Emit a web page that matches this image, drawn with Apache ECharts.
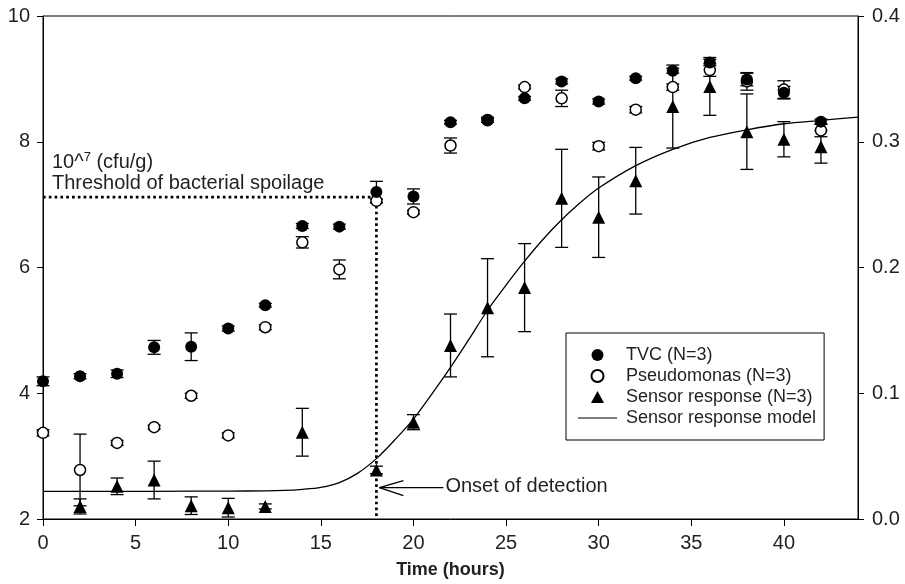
<!DOCTYPE html>
<html>
<head>
<meta charset="utf-8">
<script src="https://cdn.jsdelivr.net/npm/echarts@6/dist/echarts.min.js"></script>
<style>
  html, body { margin: 0; padding: 0; background: #fff; }
  #chart { width: 905px; height: 584px; }
</style>
</head>
<body>
<div id="chart"></div>
<script>
// ---- data ----
const times = [0, 2, 4, 6, 8, 10, 12, 14, 16, 18, 20, 22, 24, 26, 28, 30, 32, 34, 36, 38, 40, 42];
const tvc = [4.19, 4.27, 4.31, 4.73, 4.74, 5.03, 5.40, 6.66, 6.65, 7.20, 7.13, 8.31, 8.35, 8.69, 8.96, 8.64, 9.01, 9.13, 9.26, 8.99, 8.78, 8.32];
const tvcErr = [0.07, 0.04, 0.06, 0.11, 0.22, 0.04, 0.03, 0.04, 0.04, 0.17, 0.12, 0.03, 0.04, 0.03, 0.04, 0.04, 0.03, 0.04, 0.05, 0.10, 0.10, 0.04];
const pseudomonas = [3.37, 2.78, 3.21, 3.46, 3.96, 3.33, 5.05, 6.40, 5.97, 7.06, 6.88, 7.94, 8.34, 8.87, 8.69, 7.93, 8.51, 8.87, 9.14, 8.96, 8.83, 8.18];
const pseudomonasErr = [0.05, 0.57, 0.04, 0.03, 0.04, 0.04, 0.04, 0.09, 0.15, 0.03, 0.03, 0.12, 0.03, 0.03, 0.13, 0.06, 0.05, 0.05, 0.10, 0.14, 0.14, 0.10];
const sensor = [null, 0.010, 0.026, 0.031, 0.0106, 0.009, 0.010, 0.069, null, 0.039, 0.077, 0.138, 0.168, 0.184, 0.255, 0.240, 0.269, 0.328, 0.344, 0.308, 0.302, 0.296];
const sensorErr = [null, 0.006, 0.0066, 0.015, 0.007, 0.0074, 0.002, 0.019, null, 0.003, 0.006, 0.025, 0.039, 0.035, 0.039, 0.032, 0.0265, 0.033, 0.023, 0.030, 0.014, 0.013];
const modelTimes = [0, 4, 8, 10, 12, 13, 14, 15, 16, 17, 18, 19, 20, 21, 22, 23, 24, 25, 26, 27, 28, 29, 30, 32, 34, 36, 38, 40, 42, 44];
const modelValues = [0.0220, 0.0220, 0.0221, 0.0222, 0.0224, 0.0227, 0.0236, 0.0252, 0.0290, 0.0365, 0.0480, 0.0630, 0.0794, 0.0995, 0.1205, 0.1430, 0.1660, 0.1860, 0.2050, 0.2225, 0.2380, 0.2515, 0.2632, 0.2810, 0.2940, 0.3034, 0.3095, 0.3143, 0.3170, 0.3196];
const xTickValues = [0, 5, 10, 15, 20, 25, 30, 35, 40];
const thresholdLevel = 7.12;   // 10^7 cfu/g spoilage threshold (log scale)
const onsetTime = 18;          // onset of detection (hours)
const onsetArrowLevel = 2.5;   // height of the "Onset of detection" arrow (left axis)
const seriesNames = ['TVC (N=3)', 'Pseudomonas (N=3)', 'Sensor response (N=3)', 'Sensor response model'];

const FONT = '"Liberation Sans", Arial, Helvetica, sans-serif';
const INK = '#231f20';

function pairs(xs, ys) {
  const out = [];
  xs.forEach((x, i) => { if (ys[i] != null) out.push([x, ys[i]]); });
  return out;
}

function errorBars(name, yAxisIndex, vals, errs) {
  const data = [];
  times.forEach((t, i) => {
    if (vals[i] != null) data.push([t, vals[i] - errs[i], vals[i] + errs[i]]);
  });
  return {
    name: name, type: 'custom', yAxisIndex: yAxisIndex, data: data, z: 2, silent: true,
    encode: { x: 0, y: [1, 2] },
    renderItem: function (params, api) {
      const x = api.value(0);
      const lo = api.coord([x, api.value(1)]);
      const hi = api.coord([x, api.value(2)]);
      const w = 6.5;
      const st = { stroke: '#000', lineWidth: 1.3 };
      return {
        type: 'group',
        children: [
          { type: 'line', shape: { x1: lo[0], y1: lo[1], x2: hi[0], y2: hi[1] }, style: st },
          { type: 'line', shape: { x1: lo[0] - w, y1: lo[1], x2: lo[0] + w, y2: lo[1] }, style: st },
          { type: 'line', shape: { x1: hi[0] - w, y1: hi[1], x2: hi[0] + w, y2: hi[1] }, style: st }
        ]
      };
    }
  };
}

const chart = echarts.init(document.getElementById('chart'), null, { renderer: 'canvas' });

const option = {
  animation: false,
  backgroundColor: '#fff',
  textStyle: { fontFamily: FONT, color: INK },
  grid: { left: 43, right: 47, top: 16, bottom: 64, show: true, borderColor: '#000', borderWidth: 1, containLabel: false },
  legend: {
    data: [
      { name: seriesNames[0], icon: 'circle' },
      { name: seriesNames[1], icon: 'circle' },
      { name: seriesNames[2], icon: 'path://M6,0L12,11L0,11Z' },
      { name: seriesNames[3], icon: 'path://M0,0L78,0L78,2.4L0,2.4Z' }
    ],
    orient: 'vertical',
    left: 566, top: 333,
    padding: [13, 8, 13, 12],
    itemWidth: 39, itemHeight: 12, itemGap: 3,
    symbolKeepAspect: true,
    borderColor: '#000', borderWidth: 1,
    textStyle: { fontFamily: FONT, fontSize: 18, color: INK, padding: [0, 0, 0, 4] },
    selectedMode: false
  },
  xAxis: {
    type: 'value', min: 0, max: 44, interval: 5,
    name: 'Time (hours)', nameLocation: 'middle', nameGap: 42,
    nameTextStyle: { fontFamily: FONT, fontSize: 18, fontWeight: 'bold', color: INK },
    axisLine: { show: true, onZero: false, lineStyle: { color: '#000', width: 1 } },
    axisTick: { show: true, inside: false, length: 7, lineStyle: { color: '#000' }, customValues: xTickValues },
    axisLabel: { fontFamily: FONT, fontSize: 20, color: INK, margin: 14, customValues: xTickValues },
    splitLine: { show: false }
  },
  yAxis: [
    {
      type: 'value', min: 2, max: 10, interval: 2, position: 'left',
      axisLine: { show: true, onZero: false, lineStyle: { color: '#000', width: 1 } },
      axisTick: { show: true, inside: false, length: 6, lineStyle: { color: '#000' } },
      axisLabel: { fontFamily: FONT, fontSize: 20, color: INK, margin: 13 },
      splitLine: { show: false }
    },
    {
      type: 'value', min: 0, max: 0.4, interval: 0.1, position: 'right',
      axisLine: { show: true, onZero: false, lineStyle: { color: '#000', width: 1 } },
      axisTick: { show: true, inside: false, length: 6, lineStyle: { color: '#000' } },
      axisLabel: { fontFamily: FONT, fontSize: 20, color: INK, margin: 14, formatter: v => v.toFixed(1) },
      splitLine: { show: false }
    }
  ],
  series: [
    {
      name: 'threshold', type: 'line', yAxisIndex: 0, silent: true, z: 1,
      data: [[0, thresholdLevel], [onsetTime, thresholdLevel], [onsetTime, 2]],
      symbol: 'none',
      lineStyle: { color: '#000', width: 2.7, type: [2.7, 3.1], cap: 'butt' }
    },
    errorBars('tvcErr', 0, tvc, tvcErr),
    errorBars('pseudoErr', 0, pseudomonas, pseudomonasErr),
    errorBars('sensorErr', 1, sensor, sensorErr),
    {
      name: seriesNames[3], type: 'line', yAxisIndex: 1, z: 2,
      data: pairs(modelTimes, modelValues),
      smooth: 0.3, symbol: 'none', showSymbol: false,
      lineStyle: { color: '#000', width: 1.3 },
      itemStyle: { color: '#000' }
    },
    {
      name: seriesNames[1], type: 'scatter', yAxisIndex: 0, z: 3,
      data: pairs(times, pseudomonas), symbol: 'circle', symbolSize: 11,
      itemStyle: { color: '#fff', borderColor: '#000', borderWidth: 1.5, opacity: 1 }
    },
    {
      name: seriesNames[0], type: 'scatter', yAxisIndex: 0, z: 4,
      data: pairs(times, tvc), symbol: 'circle', symbolSize: 12,
      itemStyle: { color: '#000', opacity: 1 }
    },
    {
      name: seriesNames[2], type: 'scatter', yAxisIndex: 1, z: 5,
      data: pairs(times, sensor), symbol: 'triangle', symbolSize: 13, symbolKeepAspect: true,
      itemStyle: { color: '#000', opacity: 1 }
    }
  ]
};

chart.setOption(option);

// ---- annotations (text + arrow) placed via the chart's own scales ----
const pThr = chart.convertToPixel({ xAxisIndex: 0, yAxisIndex: 0 }, [0, thresholdLevel]);
const pOnset = chart.convertToPixel({ xAxisIndex: 0, yAxisIndex: 0 }, [onsetTime, onsetArrowLevel]);
const tipX = pOnset[0] + 3, tipY = pOnset[1];
const arrowStyle = { stroke: '#000', lineWidth: 1.3 };

chart.setOption({
  graphic: [
    {
      type: 'text', left: pThr[0] + 9, top: pThr[1] - 46, z: 10,
      style: {
        text: '{a|10^}{s|7}{a| (cfu/g)}',
        rich: {
          a: { fontFamily: FONT, fontSize: 20, fill: INK, lineHeight: 22 },
          s: { fontFamily: FONT, fontSize: 13, fill: INK, verticalAlign: 'top', lineHeight: 22 }
        }
      }
    },
    {
      type: 'text', left: pThr[0] + 9, top: pThr[1] - 24, z: 10,
      style: { text: 'Threshold of bacterial spoilage', fontFamily: FONT, fontSize: 20, fill: INK }
    },
    { type: 'line', z: 10, shape: { x1: tipX, y1: tipY, x2: tipX + 64, y2: tipY }, style: arrowStyle },
    { type: 'line', z: 10, shape: { x1: tipX, y1: tipY, x2: tipX + 24, y2: tipY - 7 }, style: arrowStyle },
    { type: 'line', z: 10, shape: { x1: tipX, y1: tipY, x2: tipX + 24, y2: tipY + 8 }, style: arrowStyle },
    {
      type: 'text', left: tipX + 66, top: tipY - 11, z: 10,
      style: { text: 'Onset of detection', fontFamily: FONT, fontSize: 20, fill: INK }
    }
  ]
});
</script>
</body>
</html>
